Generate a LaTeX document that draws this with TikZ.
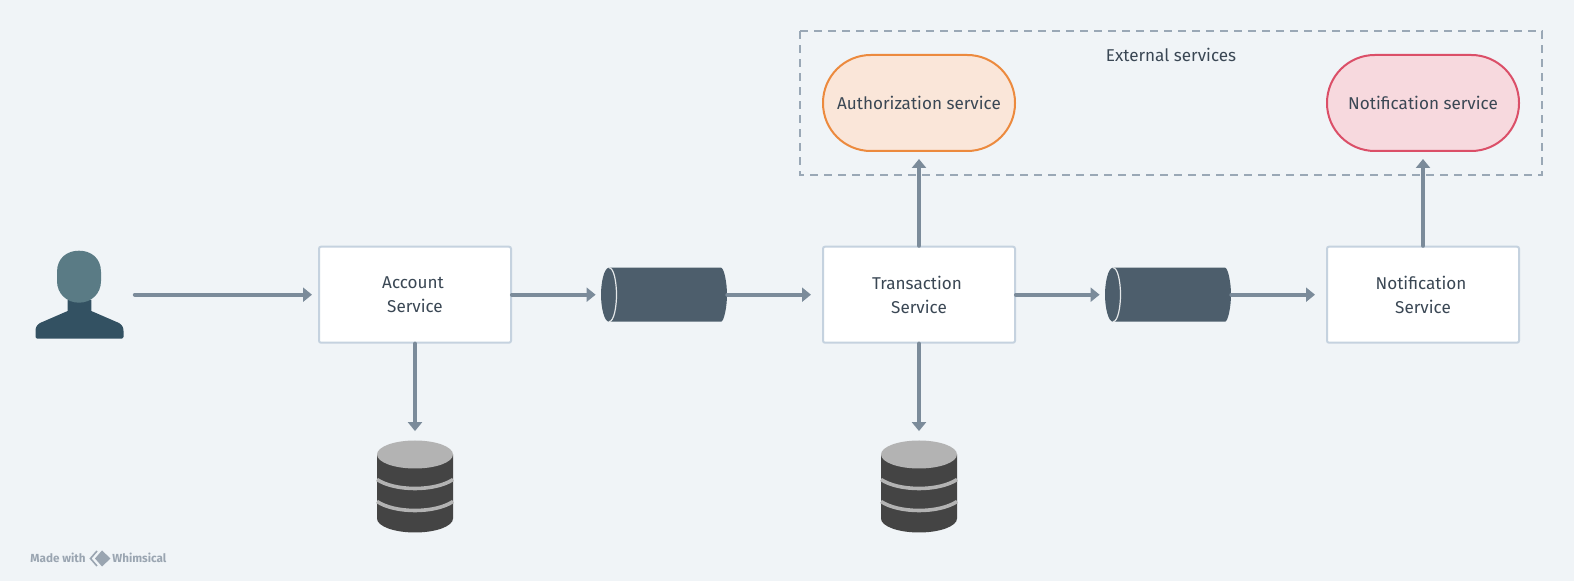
\documentclass[tikz,border=0pt]{standalone}
\usepackage{fontspec}
\setmainfont{Fira Sans}
\usetikzlibrary{arrows.meta}
\definecolor{bgcol}{HTML}{F0F4F7}
\definecolor{flowcol}{HTML}{7B8B9A}
\definecolor{edgecol}{HTML}{C5D2DF}
\definecolor{textcol}{HTML}{3A4754}
\definecolor{dashcol}{HTML}{9AA8B6}
\definecolor{queuecol}{HTML}{4D5E6C}
\definecolor{headcol}{HTML}{5A7B85}
\definecolor{bodycol}{HTML}{335162}
\definecolor{dbdark}{HTML}{444444}
\definecolor{dbgray}{HTML}{B3B3B3}
\definecolor{markcol}{HTML}{9AA5B1}
\definecolor{authedge}{HTML}{EC8A3E}
\definecolor{authfill}{HTML}{FAE6D9}
\definecolor{notifyedge}{HTML}{DB4F68}
\definecolor{notifyfill}{HTML}{F7D9DE}
\tikzset{
	flow/.style={draw=flowcol,line width=2.1pt,line cap=round,-{Triangle[length=4.5pt,width=7pt]}},
	service/.style={draw=edgecol,fill=white,line width=1pt,rounded corners=1pt,minimum width=96pt,minimum height=48pt,inner sep=0pt,align=center,text=textcol,font=\fontsize{8.55}{12}\selectfont},
	pill/.style={line width=1pt,rounded corners=23.9pt,minimum width=96pt,minimum height=48pt,inner sep=0pt,text=textcol,font=\fontsize{8.55}{12}\selectfont},
	holder/.style={minimum width=#1,inner sep=0pt},
	queue/.pic={
		\fill[queuecol] (-55,-27) -- (57,-27) .. controls (60,-27) and (63,-12) .. (63,0) .. controls (63,12) and (60,27) .. (57,27) -- (-55,27)
			.. controls (-60,27) and (-63,12) .. (-63,0) .. controls (-63,-12) and (-60,-27) .. (-55,-27) -- cycle;
		\draw[white!85!queuecol,line width=.6pt] (-55,-27) .. controls (-50,-27) and (-47.5,-12) .. (-47.5,0) .. controls (-47.5,12) and (-50,27) .. (-55,27);
	},
	database/.pic={
		\fill[dbdark] (-38,-32) -- (-38,32) arc[start angle=180,end angle=360,x radius=38,y radius=-14] -- (38,-32) -- cycle;
		\fill[dbgray] (0,-32) ellipse[x radius=38,y radius=14];
		\draw[dbgray,line width=1.8pt] (-38,-7) .. controls (-20,5) and (20,5) .. (38,-7);
		\draw[dbgray,line width=1.8pt] (-38,15) .. controls (-20,27) and (20,27) .. (38,15);
	},
}
\begin{document}
\begin{tikzpicture}[x=0.5pt,y=-0.5pt]
	\useasboundingbox[fill=bgcol] (0,0) rectangle (1574,581);

	% outer group
	\draw[draw=dashcol,line width=1pt,dash pattern=on 4pt off 3pt] (799.5,31.5) rectangle (1542,175);
	\node[text=textcol,font=\fontsize{8.55}{12}\selectfont] (extlabel) at (1171,55) {External services};

	\node[pill,draw=authedge,fill=authfill] (auth) at (919,103) {Authorization service};
	\node[pill,draw=notifyedge,fill=notifyfill] (notifyext) at (1423,103) {Notification service};

	% services
	\node[service] (account) at (415,294.7) {Account\kern2pt\\Service};
	\node[service] (transaction) at (919,294.7) {Transaction\kern2pt\\Service};
	\node[service] (notify) at (1423,294.7) {Notification\kern2pt\\Service};

	% holders for the drawn figures
	\node[holder=44pt,minimum height=44pt] (user) at (79.5,294.7) {};
	\node[holder=63pt,minimum height=27pt] (q1) at (664,294.7) {};
	\node[holder=63pt,minimum height=27pt] (q2) at (1168,294.7) {};
	\node[holder=38pt,minimum height=46pt] (db1) at (415,486.5) {};
	\node[holder=38pt,minimum height=46pt] (db2) at (919,486.5) {};

	% user
	\fill[bodycol] (67.7,300) -- (91.3,300) -- (91.3,311) -- (119,323) .. controls (122,325) and (123.5,327) .. (123.5,331) -- (123.5,337) -- (122,338.7) -- (37,338.7) -- (35.5,337) -- (35.5,331)
		.. controls (35.5,327) and (37,325) .. (40,323) -- (67.7,311) -- cycle;
	\fill[headcol] (57,272) .. controls (57,258) and (67,250.7) .. (79,250.7) .. controls (91,250.7) and (101,258) .. (101,272) -- (101,281) .. controls (101,294) and (91,302.7) .. (79,302.7) .. controls (67,302.7) and (57,294) .. (57,281) -- cycle;

	\path (q1) pic {queue};
	\path (q2) pic {queue};
	\path (db1) pic {database};
	\path (db2) pic {database};

	% connectors
	\draw[flow,shorten <=5.5pt,shorten >=3pt] (user) to (account);
	\draw[flow,shorten >=2.5pt] (account) to (q1);
	\draw[flow,shorten >=5.5pt] (q1) to (transaction);
	\draw[flow,shorten >=2.5pt] (transaction) to (q2);
	\draw[flow,shorten >=5.5pt] (q2) to (notify);
	\draw[flow,shorten >=4.5pt] (account) to (db1);
	\draw[flow,shorten >=4.5pt] (transaction) to (db2);
	\draw[flow,shorten >=3.5pt] (transaction) to (auth);
	\draw[flow,shorten >=3.5pt] (notify) to (notifyext);

	% footer
	\node[anchor=west,inner sep=0pt,text=markcol,font=\fontsize{5.85}{6}\selectfont\bfseries] (made) at (30,558) {Made with};
	\node[anchor=west,inner sep=0pt,text=markcol,font=\fontsize{5.85}{6}\selectfont\bfseries] (brand) at (112,558) {Whimsical};
	\draw[markcol,line width=.8pt] (97,551) -- (90.5,558.5) -- (97,566);
	\fill[markcol] (102,550.5) -- (110.5,558.5) -- (102,566.5) -- (95,558.5) -- cycle;
\end{tikzpicture}
\end{document}
